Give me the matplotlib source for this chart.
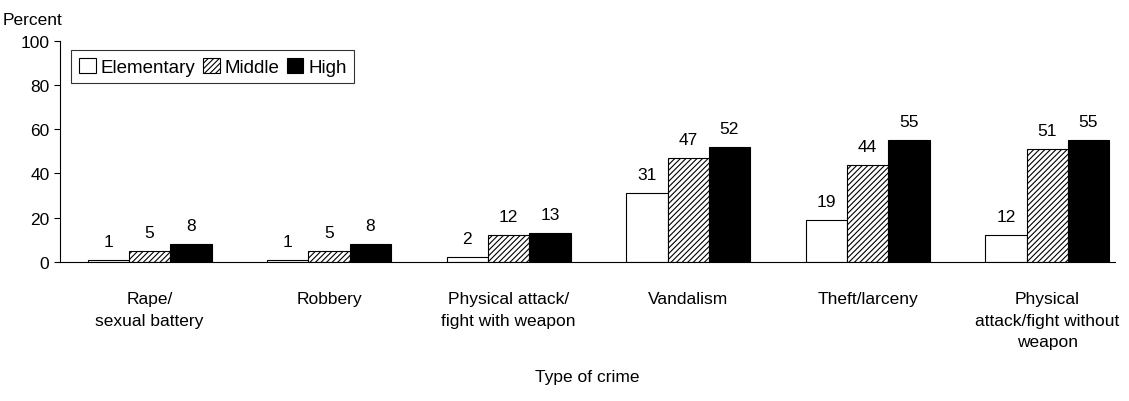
import matplotlib
matplotlib.use("Agg")
import matplotlib.pyplot as plt
import numpy as np

plt.rcParams['font.family'] = ['Liberation Sans', 'DejaVu Sans']
plt.rcParams['hatch.linewidth'] = 0.8

categories = ["Rape/\nsexual battery", "Robbery", "Physical attack/\nfight with weapon",
              "Vandalism", "Theft/larceny", "Physical\nattack/fight without\nweapon"]
elementary = [1, 1, 2, 31, 19, 12]
middle = [5, 5, 12, 47, 44, 51]
high = [8, 8, 13, 52, 55, 55]

fig = plt.figure(figsize=(11.29, 4.02), dpi=100)
ax = fig.add_axes([0.053, 0.346, 0.935, 0.55])
x = np.arange(len(categories))
w = 0.23
series = [("Elementary", elementary, "white", None),
          ("Middle", middle, "white", "//////"),
          ("High", high, "black", None)]
for i, (name, vals, fc, h) in enumerate(series):
    bars = ax.bar(x + (i - 1) * w, vals, w, facecolor=fc, edgecolor="black",
                  hatch=h, linewidth=0.8, label=name)
    for b, v in zip(bars, vals):
        ax.text(b.get_x() + b.get_width() / 2, v + 5, str(v), ha="center",
                va="bottom", fontsize=12.5)

ax.set_xlim(-0.5, 5.38)
ax.set_ylim(0, 100)
ax.set_yticks(range(0, 101, 20))
ax.set_xticks(x)
ax.set_xticklabels(categories, fontsize=12.5, linespacing=1.55)
ax.tick_params(axis="y", labelsize=12.5, length=4)
ax.tick_params(axis="x", length=0, pad=21)
for s in ["top", "right"]:
    ax.spines[s].set_visible(False)
fig.text(0.002, 0.93, "Percent", fontsize=12.5, ha="left", va="bottom")
ax.set_xlabel("Type of crime", fontsize=12.5, labelpad=14)
leg = ax.legend(loc="upper left", bbox_to_anchor=(0.002, 1.0), ncol=3, fontsize=13.5,
                frameon=True, fancybox=False, edgecolor="black", handlelength=0.9,
                handleheight=0.9, handletextpad=0.25, columnspacing=0.4,
                borderpad=0.4)
leg.get_frame().set_linewidth(0.8)
fig.savefig("out.png", dpi=100)
